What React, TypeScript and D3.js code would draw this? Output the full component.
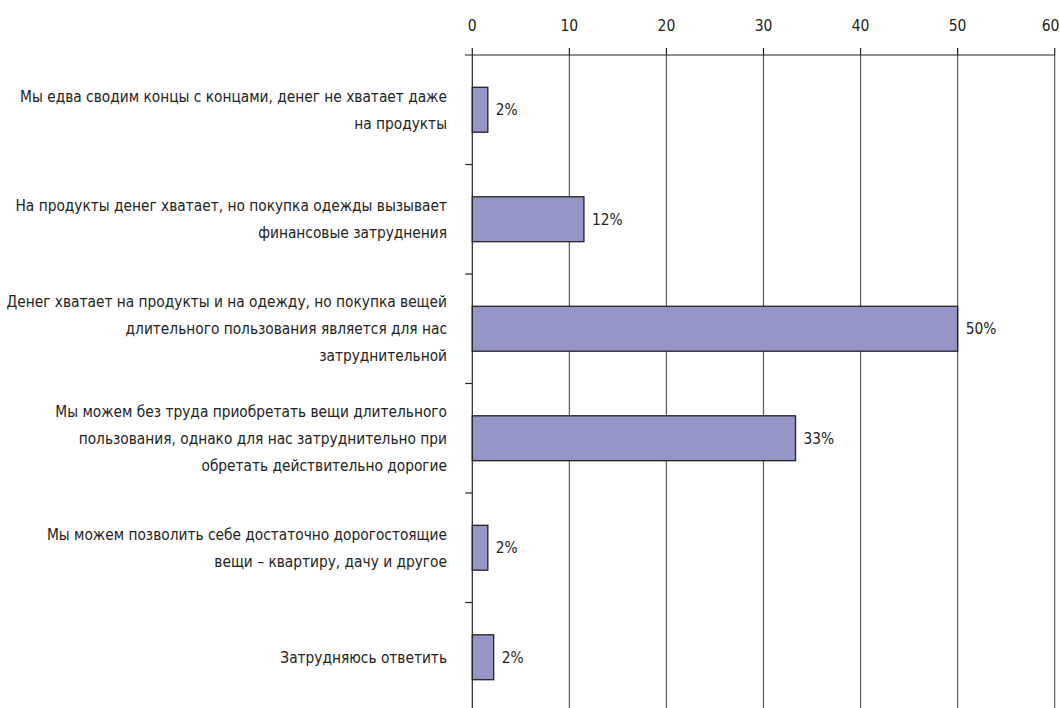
import React from "react";
import * as d3 from "d3";

const categories: string[][] = [
  ["Мы едва сводим концы с концами, денег не хватает даже", "на продукты"],
  ["На продукты денег хватает, но покупка одежды вызывает", "финансовые затруднения"],
  ["Денег хватает на продукты и на одежду, но покупка вещей", "длительного пользования является для нас", "затруднительной"],
  ["Мы можем без труда приобретать вещи длительного", "пользования, однако для нас затруднительно при", "обретать действительно дорогие"],
  ["Мы можем позволить себе достаточно дорогостоящие", "вещи – квартиру, дачу и другое"],
  ["Затрудняюсь ответить"],
];
const values: number[] = [1.6, 11.5, 50, 33.3, 1.6, 2.2];
const valueLabels: string[] = ["2%", "12%", "50%", "33%", "2%", "2%"];
const xTicks: number[] = [0, 10, 20, 30, 40, 50, 60];

const W = 1060;
const H = 708;
const FONT = "'Liberation Sans Narrow', 'Arial Narrow', 'DejaVu Sans Condensed', sans-serif";

export default function App() {
  React.useEffect(() => {
    document.body.style.margin = "0";
  }, []);
  const x = d3.scaleLinear().domain([0, 60]).range([472.3, 1054.7]);
  const y = d3
    .scaleBand<number>()
    .domain(d3.range(categories.length))
    .range([55, 55 + 109.5 * 6])
    .paddingInner(0.59)
    .paddingOuter(0.295);
  const step = y.step();
  const y0 = 55;
  const bottom = 55 + step * 6;
  const lineH = 27;

  return (
    <svg width={W} height={H} style={{ display: "block", background: "#fff" }} fontFamily={FONT}>
      {/* gridlines */}
      {xTicks.filter((t) => t > 0).map((t) => (
        <line key={"g" + t} x1={x(t)} x2={x(t)} y1={y0} y2={bottom} stroke="#5a5a5a" strokeWidth={1.2} />
      ))}
      {/* top axis */}
      <line x1={465} x2={x(60)} y1={y0} y2={y0} stroke="#222" strokeWidth={1.2} />
      {xTicks.map((t) => (
        <g key={"t" + t}>
          <line x1={x(t)} x2={x(t)} y1={y0 - 7} y2={y0} stroke="#222" strokeWidth={1.2} />
          <text
            x={Math.min(x(t), W - 9.5)}
            y={31}
            textAnchor="middle"
            fontSize={15.5}
            fill="#222"
          >
            {t}
          </text>
        </g>
      ))}
      {/* left axis */}
      <line x1={x(0)} x2={x(0)} y1={y0} y2={bottom} stroke="#222" strokeWidth={1.2} />
      {d3.range(1, 7).map((i) => (
        <line key={"lt" + i} x1={x(0) - 7} x2={x(0)} y1={y0 + step * i} y2={y0 + step * i} stroke="#222" strokeWidth={1.2} />
      ))}
      {/* bars */}
      {values.map((v, i) => (
        <g key={"b" + i}>
          <rect
            x={x(0)}
            y={y(i)!}
            width={x(v) - x(0)}
            height={y.bandwidth()}
            fill="#9595c8"
            stroke="#222"
            strokeWidth={1.3}
          />
          <text
            x={x(v) + 8}
            y={y(i)! + y.bandwidth() / 2}
            dy="0.35em"
            fontSize={15.3}
            fill="#222"
          >
            {valueLabels[i]}
          </text>
        </g>
      ))}
      {/* category labels */}
      {categories.map((lines, i) => {
        const cy = y0 + step * (i + 0.5);
        const start = cy - ((lines.length - 1) * lineH) / 2;
        return (
          <text key={"c" + i} x={447} textAnchor="end" fontSize={15.3} fill="#222">
            {lines.map((l, j) => (
              <tspan key={j} x={447} y={start + j * lineH} dy="0.35em">
                {l}
              </tspan>
            ))}
          </text>
        );
      })}
    </svg>
  );
}
